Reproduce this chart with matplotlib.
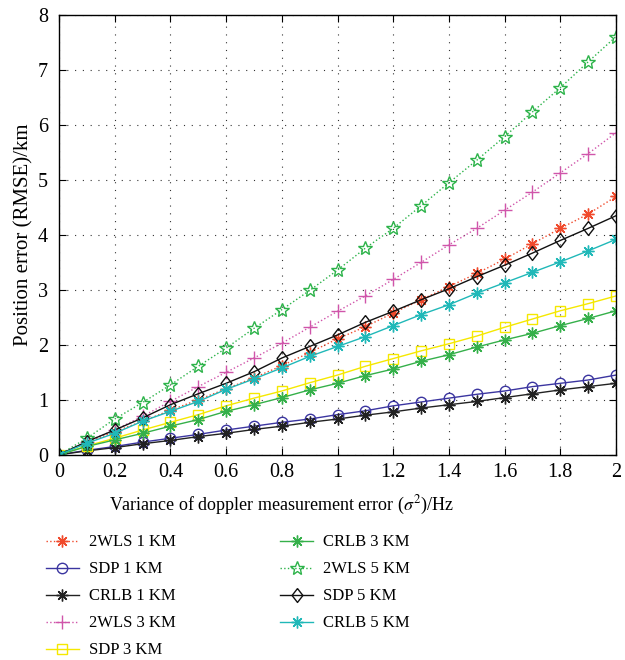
import matplotlib
matplotlib.use("Agg")
import matplotlib.pyplot as plt

plt.rcParams['font.family'] = 'serif'
plt.rcParams['font.serif'] = ['Liberation Serif', 'DejaVu Serif']
plt.rcParams['mathtext.fontset'] = 'stix'

# variance of doppler measurement error
x = [0, 0.1, 0.2, 0.3, 0.4, 0.5, 0.6, 0.7, 0.8, 0.9, 1.0,
     1.1, 1.2, 1.3, 1.4, 1.5, 1.6, 1.7, 1.8, 1.9, 2.0]

wls_1 = [0, 0.22, 0.42, 0.61, 0.81, 1.0, 1.2, 1.4, 1.62, 1.86, 2.11,
         2.33, 2.58, 2.82, 3.06, 3.30, 3.56, 3.84, 4.12, 4.38, 4.70]
sdp_1 = [0, 0.08, 0.15, 0.23, 0.30, 0.37, 0.45, 0.52, 0.59, 0.65, 0.73,
         0.80, 0.89, 0.96, 1.03, 1.10, 1.16, 1.24, 1.30, 1.36, 1.45]
crlb_1 = [0, 0.07, 0.13, 0.20, 0.26, 0.33, 0.39, 0.46, 0.52, 0.59, 0.65,
          0.72, 0.78, 0.85, 0.91, 0.97, 1.04, 1.11, 1.18, 1.24, 1.30]
wls_3 = [0, 0.24, 0.45, 0.70, 0.97, 1.24, 1.50, 1.76, 2.03, 2.32, 2.61,
         2.89, 3.19, 3.50, 3.82, 4.12, 4.45, 4.78, 5.13, 5.48, 5.86]
sdp_3 = [0, 0.16, 0.30, 0.45, 0.59, 0.73, 0.89, 1.03, 1.16, 1.31, 1.45,
         1.61, 1.75, 1.89, 2.02, 2.16, 2.32, 2.47, 2.62, 2.75, 2.89]
crlb_3 = [0, 0.15, 0.27, 0.39, 0.52, 0.64, 0.79, 0.91, 1.04, 1.18, 1.30,
          1.44, 1.56, 1.70, 1.82, 1.96, 2.09, 2.21, 2.35, 2.48, 2.62]
wls_5 = [0, 0.30, 0.65, 0.95, 1.27, 1.61, 1.94, 2.30, 2.64, 2.99, 3.36,
         3.76, 4.12, 4.53, 4.95, 5.36, 5.79, 6.24, 6.68, 7.15, 7.61]
sdp_5 = [0, 0.24, 0.45, 0.67, 0.91, 1.11, 1.30, 1.51, 1.76, 1.97, 2.18,
         2.41, 2.61, 2.82, 3.02, 3.24, 3.45, 3.67, 3.90, 4.12, 4.35]
crlb_5 = [0, 0.21, 0.39, 0.61, 0.79, 0.97, 1.19, 1.38, 1.58, 1.79, 1.97,
          2.15, 2.35, 2.55, 2.73, 2.94, 3.13, 3.32, 3.51, 3.71, 3.92]

ast = (8, 2, 0)
diamond = [(0, 1), (0.78, 0), (0, -1), (-0.78, 0), (0, 1)]

fig = plt.figure(figsize=(6.25, 6.6), dpi=100)
ax = fig.add_axes([0.0944, 0.311, 0.8912, 0.666])

ax.plot(x, wls_1, ':', color='#f04a2c', marker=ast, ms=8.5, lw=1, label='2WLS 1 KM')
ax.plot(x, sdp_1, '-', color='#3b35a0', marker='o', mfc='none', ms=7.5, lw=1, label='SDP 1 KM')
ax.plot(x, crlb_1, '-', color='#222222', marker=ast, ms=8.5, lw=1, label='CRLB 1 KM')
ax.plot(x, wls_3, ':', color='#d055aa', marker='+', ms=10, lw=1, label='2WLS 3 KM')
ax.plot(x, sdp_3, '-', color='#f5e800', marker='s', mfc='none', ms=7, lw=1, label='SDP 3 KM')
ax.plot(x, crlb_3, '-', color='#35b04a', marker=ast, ms=8.5, lw=1, label='CRLB 3 KM')
ax.plot(x, wls_5, ':', color='#2db34a', marker='*', mfc='none', ms=10.5, lw=1, label='2WLS 5 KM')
ax.plot(x, sdp_5, '-', color='#111111', marker=diamond, mfc='none', ms=10, lw=1, label='SDP 5 KM')
ax.plot(x, crlb_5, '-', color='#20b8b8', marker=ast, ms=8.5, lw=1, label='CRLB 5 KM')

ax.set_xlim(0, 2)
ax.set_ylim(0, 8)
ax.set_xticks([0, 0.2, 0.4, 0.6, 0.8, 1, 1.2, 1.4, 1.6, 1.8, 2])
ax.set_xticklabels(['0', '0.2', '0.4', '0.6', '0.8', '1', '1.2', '1.4', '1.6', '1.8', '2'])
ax.set_yticks(range(0, 9))
ax.tick_params(direction='in', top=True, right=True, labelsize=14.5, length=5)
ax.tick_params(axis='y', pad=8)
ax.tick_params(axis='x', pad=6)
ax.grid(True, color='#333333', linestyle=(0, (1, 6)), linewidth=0.8)
for s in ax.spines.values():
    s.set_linewidth(1)
ax.set_xlabel(r'Variance of doppler measurement error ($\sigma^2$)/Hz', fontsize=13)
ax.set_ylabel('Position error (RMSE)/km', fontsize=15)
ax.xaxis.set_label_coords(0.40, -0.088)
ax.yaxis.set_label_coords(-0.045, 0.5)

fig.legend(loc='upper left', bbox_to_anchor=(0.049, 0.213), ncol=2, frameon=False,
           fontsize=12, handlelength=2.0, handletextpad=0.6, columnspacing=6.25,
           labelspacing=0.66)

fig.savefig('out.png', dpi=100)
